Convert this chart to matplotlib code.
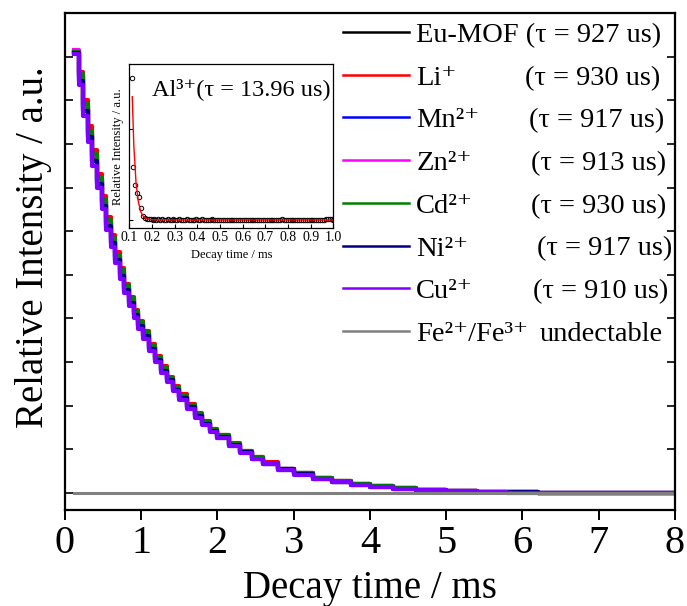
import numpy as np
import matplotlib
matplotlib.use("Agg")
import matplotlib.pyplot as plt

plt.rcParams['font.family'] = ['Liberation Serif', 'DejaVu Serif']

# ---------------- data ----------------
time_ms = [0.12, 0.18, 0.24, 0.30, 0.36, 0.42, 0.48, 0.54, 0.60, 0.66,
           0.72, 0.78, 0.84, 0.90, 0.96, 1.02, 1.10, 1.18, 1.26, 1.34,
           1.42, 1.50, 1.60, 1.70, 1.80, 1.90, 2.00, 2.15, 2.30, 2.45,
           2.60, 2.80, 3.00, 3.25, 3.50, 3.75, 4.00, 4.30, 4.60, 5.00,
           5.40, 5.80, 6.20, 6.60, 7.00, 7.40, 7.80, 8.00]

eu_mof = [1.010, 0.955, 0.885, 0.822, 0.770, 0.715, 0.668, 0.618, 0.580, 0.540,
          0.505, 0.470, 0.442, 0.412, 0.388, 0.364, 0.335, 0.309, 0.283, 0.262,
          0.240, 0.221, 0.199, 0.178, 0.161, 0.144, 0.131, 0.111, 0.095, 0.081,
          0.069, 0.055, 0.045, 0.034, 0.027, 0.020, 0.015, 0.011, 0.008, 0.005,
          0.003, 0.002, 0.001, 0.001, 0.000, 0.000, 0.000, 0.000]
li = [1.012, 0.965, 0.900, 0.840, 0.785, 0.730, 0.680, 0.632, 0.592, 0.552,
      0.515, 0.480, 0.450, 0.420, 0.395, 0.372, 0.342, 0.314, 0.290, 0.266,
      0.245, 0.226, 0.203, 0.183, 0.164, 0.147, 0.133, 0.114, 0.097, 0.083,
      0.070, 0.056, 0.046, 0.035, 0.027, 0.021, 0.016, 0.011, 0.008, 0.005,
      0.003, 0.002, 0.001, 0.001, 0.001, 0.000, 0.000, 0.000]
mn = [1.008, 0.948, 0.878, 0.818, 0.762, 0.710, 0.660, 0.612, 0.572, 0.535,
      0.498, 0.466, 0.436, 0.408, 0.383, 0.360, 0.331, 0.304, 0.280, 0.257,
      0.236, 0.217, 0.195, 0.175, 0.157, 0.141, 0.127, 0.108, 0.093, 0.079,
      0.067, 0.053, 0.043, 0.033, 0.025, 0.019, 0.014, 0.010, 0.007, 0.004,
      0.003, 0.002, 0.001, 0.000, 0.000, 0.000, 0.000, 0.000]
zn = [1.015, 0.958, 0.885, 0.828, 0.772, 0.718, 0.670, 0.620, 0.578, 0.542,
      0.505, 0.472, 0.440, 0.414, 0.388, 0.366, 0.336, 0.308, 0.284, 0.261,
      0.240, 0.221, 0.198, 0.178, 0.160, 0.144, 0.130, 0.111, 0.095, 0.080,
      0.068, 0.055, 0.044, 0.034, 0.026, 0.020, 0.015, 0.011, 0.008, 0.005,
      0.003, 0.002, 0.001, 0.001, 0.000, 0.000, 0.000, 0.000]
cd = [1.010, 0.960, 0.892, 0.830, 0.778, 0.722, 0.672, 0.626, 0.585, 0.546,
      0.510, 0.476, 0.446, 0.416, 0.391, 0.368, 0.338, 0.311, 0.287, 0.264,
      0.242, 0.223, 0.201, 0.180, 0.162, 0.146, 0.132, 0.112, 0.096, 0.082,
      0.069, 0.056, 0.045, 0.035, 0.027, 0.021, 0.015, 0.011, 0.008, 0.005,
      0.003, 0.002, 0.001, 0.001, 0.000, 0.000, 0.000, 0.000]
ni = [1.008, 0.945, 0.875, 0.815, 0.760, 0.708, 0.658, 0.612, 0.572, 0.535,
      0.498, 0.465, 0.436, 0.408, 0.382, 0.360, 0.331, 0.305, 0.280, 0.258,
      0.237, 0.218, 0.196, 0.176, 0.158, 0.142, 0.128, 0.109, 0.093, 0.079,
      0.067, 0.054, 0.043, 0.033, 0.026, 0.019, 0.014, 0.010, 0.007, 0.005,
      0.003, 0.002, 0.001, 0.000, 0.000, 0.000, 0.000, 0.000]
cu = [1.005, 0.935, 0.865, 0.805, 0.750, 0.698, 0.650, 0.603, 0.563, 0.527,
      0.490, 0.458, 0.429, 0.401, 0.376, 0.354, 0.326, 0.300, 0.276, 0.254,
      0.233, 0.214, 0.193, 0.173, 0.155, 0.139, 0.125, 0.107, 0.091, 0.078,
      0.066, 0.052, 0.042, 0.032, 0.025, 0.019, 0.014, 0.010, 0.007, 0.004,
      0.002, 0.001, 0.001, 0.000, 0.000, 0.000, 0.000, 0.000]
fe_time = [0.12, 8.0]
fe_vals = [0.0, 0.0]

series_names = ["Eu-MOF (\u03c4 = 927 us)", "Li\u207a", "Mn\u00b2\u207a", "Zn\u00b2\u207a",
                "Cd\u00b2\u207a", "Ni\u00b2\u207a", "Cu\u00b2\u207a", "Fe\u00b2\u207a/Fe\u00b3\u207a"]
series_notes = ["", "(\u03c4 = 930 us)", "(\u03c4 = 917 us)", "(\u03c4 = 913 us)",
                "(\u03c4 = 930 us)", "(\u03c4 = 917 us)", "(\u03c4 = 910 us)", "undectable"]
note_x = [None, 0.754, 0.761, 0.764, 0.764, 0.774, 0.767, 0.779]
series_colors = ['#000000', '#ff0000', '#0000ff', '#ff00ff', '#008000',
                 '#000080', '#8000ff', '#808080']

x_ticks = [0, 1, 2, 3, 4, 5, 6, 7, 8]

# inset (Al3+) data
inset_t0 = 0.110
inset_step = 0.0084
al_vals = [1.562, 0.588, 0.386, 0.294, 0.257, 0.129, 0.044, 0.018,
           0.012, 0.008, 0.010, 0.005, 0.007, 0.004, 0.006, 0.003, 0.008, 0.005,
           0.004, 0.006, 0.002, 0.005, 0.007, 0.003, 0.004, 0.006, 0.002, 0.005,
           0.003, 0.006, 0.004, 0.001, 0.005, 0.003, 0.007, 0.002, 0.004, 0.006,
           0.003, 0.005, 0.001, 0.004, 0.006, 0.002, 0.003, 0.005, 0.001, 0.004,
           -0.002, 0.003, 0.000, -0.004, 0.002, -0.003, 0.001, -0.005, 0.000, 0.003,
           -0.002, 0.001, -0.004, 0.002, -0.001, 0.003, -0.003, 0.000, 0.002, -0.002,
           0.004, 0.001, -0.001, 0.003, 0.000, 0.005, 0.002, -0.001, 0.004, 0.001,
           0.003, 0.006, 0.002, 0.004, 0.000, 0.003, 0.005, 0.001, 0.004, 0.002,
           0.000, -0.003, 0.002, -0.002, 0.001, -0.004, 0.000, 0.002, -0.003, -0.001,
           -0.004, 0.000, -0.002, 0.003, 0.012, 0.010, 0.008, 0.006, 0.004]
al_time = [inset_t0 + inset_step * i for i in range(len(al_vals))]
fit_time = [0.113, 0.120, 0.130, 0.140, 0.150, 0.160, 0.170, 0.180, 0.200, 0.300, 1.000]
fit_vals = [1.36, 0.82, 0.40, 0.20, 0.096, 0.047, 0.023, 0.011, 0.003, 0.0, 0.0]
inset_ticks = [0.1, 0.2, 0.3, 0.4, 0.5, 0.6, 0.7, 0.8, 0.9, 1.0]
inset_label = "Al\u00b3\u207a(\u03c4 = 13.96 us)"

# ---------------- figure ----------------
fig = plt.figure(figsize=(6.87, 6.06), dpi=100)
ax = fig.add_axes([0.0946, 0.1584, 0.8879, 0.8201])

all_series = [eu_mof, li, mn, zn, cd, ni, cu]
for vals, lab, col in zip(all_series, series_names[:7], series_colors[:7]):
    ax.plot(time_ms, vals, drawstyle='steps-post', color=col, lw=3.0, label=lab)
ax.plot(fe_time, fe_vals, color=series_colors[7], lw=2.2, label=series_names[7])

ax.set_xlim(0, 8)
ax.set_ylim(-0.039, 1.10)
ax.set_xticks(x_ticks)
ax.set_xticklabels([str(v) for v in x_ticks])
ax.set_yticks(np.arange(0, 1.01, 0.1))
ax.set_yticklabels([])
ax.tick_params(axis='x', direction='out', length=7, width=1.4, labelsize=29, pad=4)
ax.tick_params(axis='y', direction='in', length=6, width=1.2, right=True)
for sp in ax.spines.values():
    sp.set_linewidth(1.6)
ax.set_xlabel("Decay time / ms", fontsize=28, labelpad=5.5)
ax.set_ylabel("Relative Intensity / a.u.", fontsize=28)
ax.yaxis.set_label_coords(-0.022, 0.529)

leg = ax.legend(loc='upper left', bbox_to_anchor=(0.456, 0.982), frameon=False,
                fontsize=20.5, handlelength=2.3, handletextpad=0.27,
                labelspacing=0.59, borderaxespad=0.0, borderpad=0.0)
for h in leg.get_lines():
    h.set_linewidth(1.8)

# inset
axi = fig.add_axes([0.1882, 0.6238, 0.2970, 0.2700])
axi.plot(al_time, al_vals, linestyle='none', marker='o', markersize=3.2,
         markerfacecolor='none', markeredgecolor='black', markeredgewidth=0.7)
axi.plot(fit_time, fit_vals, color='red', lw=1.0)
axi.set_xlim(0.1, 1.0)
axi.set_ylim(-0.088, 1.717)
axi.set_xticks(inset_ticks)
axi.set_xticklabels([f"{v:.1f}" for v in inset_ticks])
axi.set_yticks([0, 1])
axi.set_yticklabels([])
axi.tick_params(axis='both', direction='in', length=3, width=0.8, labelsize=10, pad=2)
for sp in axi.spines.values():
    sp.set_linewidth(0.9)
axi.set_xlabel("Decay time / ms", fontsize=9, labelpad=4)
axi.set_ylabel("Relative Intensity / a.u.", fontsize=9, labelpad=2)
axi.text(0.11, 0.81, inset_label, transform=axi.transAxes, fontsize=17.5,
         ha='left', va='baseline')

# notes aligned to the legend rows (baseline of each legend label)
fig.canvas.draw()
inv = ax.transAxes.inverted()
for txt, note, nx in zip(leg.get_texts(), series_notes, note_x):
    if not note:
        continue
    disp = txt.get_transform().transform(txt.get_position())
    _, ay = inv.transform(disp)
    ax.text(nx, ay, note, transform=ax.transAxes, fontsize=20.5,
            ha='left', va='baseline')

fig.savefig("out.png", dpi=100)
